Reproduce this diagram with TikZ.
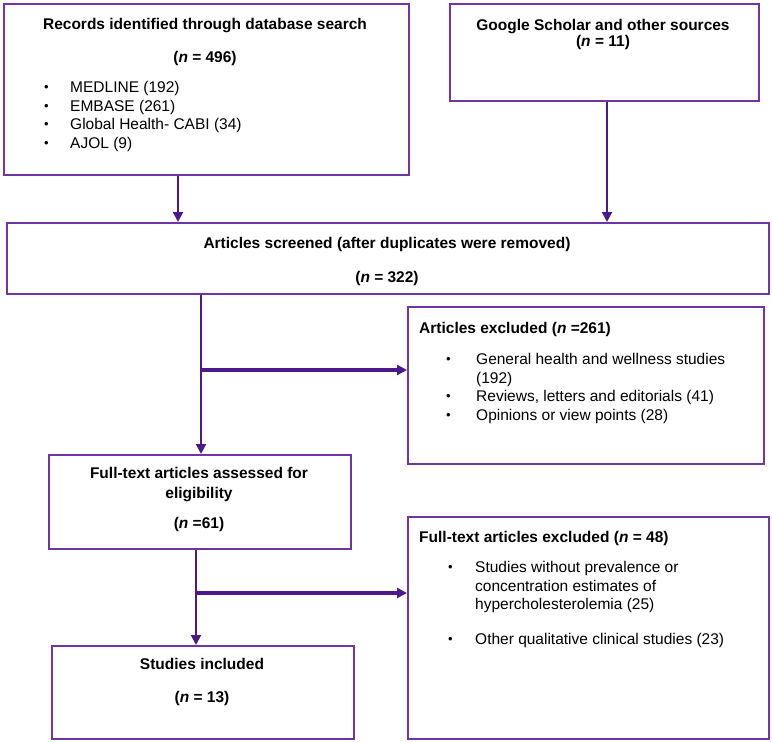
\documentclass[tikz,border=0pt]{standalone}
\usepackage{fontspec}
\setmainfont{Liberation Sans}
\usetikzlibrary{arrows.meta}
\definecolor{boxpurple}{RGB}{112,52,165}
\definecolor{arrpurple}{RGB}{75,25,140}
\newcommand{\smbul}{\raisebox{1pt}{\fontsize{13pt}{13pt}\selectfont\textbullet}}
\tikzset{
  box/.style={draw=boxpurple, line width=1.5pt, rectangle, anchor=north west, inner sep=0pt},
  txt/.style={inner sep=0pt, font=\fontsize{15.5pt}{18.5pt}\selectfont},
  btxt/.style={txt, font=\fontsize{15.5pt}{18.5pt}\selectfont\bfseries},
  conn/.style={draw=arrpurple, line width=2pt, -{Triangle[length=10pt,width=10pt]}},
  branch/.style={draw=arrpurple, line width=3.5pt, -{Triangle[length=10pt,width=10pt]}}
}
\begin{document}
\begin{tikzpicture}[x=1pt,y=-1pt]
\useasboundingbox (0,0) rectangle (772,742);
% boxes
\node[box, minimum width=405pt, minimum height=171pt] (b1) at (3,3) {};
\node[box, minimum width=309pt, minimum height=97pt] (b2) at (449,3) {};
\node[box, minimum width=762pt, minimum height=71pt] (b3) at (6,222) {};
\node[box, minimum width=356pt, minimum height=157pt] (bx1) at (407,306) {};
\node[box, minimum width=302pt, minimum height=94pt] (b4) at (48,454) {};
\node[box, minimum width=361pt, minimum height=222pt] (bx2) at (407,516) {};
\node[box, minimum width=302pt, minimum height=93pt] (b5) at (51,645) {};
% texts
\node[btxt, anchor=base] (t1a) at (205,29.5) {Records identified through database search};
\node[btxt, anchor=base] (t1b) at (205,62.5) {(\textit{n} = 496)};
\node[txt, anchor=base west] (l1) at (44,92.5) {\begin{tabular}[t]{@{}p{26pt}@{}l@{}}
\smbul & MEDLINE (192)\\
\smbul & EMBASE (261)\\
\smbul & Global Health- CABI (34)\\
\smbul & AJOL (9)
\end{tabular}};
\node[btxt, anchor=base] (t2a) at (603,30.5) {Google Scholar and other sources};
\node[btxt, anchor=base] (t2b) at (603,46) {(\textit{n} = 11)};
\node[btxt, anchor=base] (t3a) at (387,248.5) {Articles screened (after duplicates were removed)};
\node[btxt, anchor=base] (t3b) at (387,282.5) {(\textit{n} = 322)};
\node[btxt, anchor=base west] (t4) at (419,333.5) {Articles excluded (\textit{n} =261)};
\node[txt, anchor=base west] (l2) at (446,364.5) {\begin{tabular}[t]{@{}p{30pt}@{}l@{}}
\smbul & General health and wellness studies\\
 & (192)\\
\smbul & Reviews, letters and editorials (41)\\
\smbul & Opinions or view points (28)
\end{tabular}};
\node[btxt, anchor=base] (t5a) at (199,478.5) {Full-text articles assessed for};
\node[btxt, anchor=base] (t5b) at (199,498.5) {eligibility};
\node[btxt, anchor=base] (t5c) at (199,528.5) {(\textit{n} =61)};
\node[btxt, anchor=base west] (t6) at (419,542.5) {Full-text articles excluded (\textit{n} = 48)};
\node[txt, anchor=base west] (l3) at (448,572.5) {\begin{tabular}[t]{@{}p{27pt}@{}l@{}}
\smbul & Studies without prevalence or\\
 & concentration estimates of\\
 & hypercholesterolemia (25)\\[16pt]
\smbul & Other qualitative clinical studies (23)
\end{tabular}};
\node[btxt, anchor=base] (t7a) at (202,669.5) {Studies included};
\node[btxt, anchor=base] (t7b) at (202,702.5) {(\textit{n} = 13)};
% connectors
\coordinate (c178) at (178,0);
\coordinate (c607) at (607,0);
\coordinate (j1) at (201,370);
\coordinate (j2) at (196,593);
\draw[conn] (b1.south -| c178) -- (b3.north -| c178);
\draw[conn] (b2.south -| c607) -- (b3.north -| c607);
\draw[conn] (b3.south -| j1) -- (b4.north -| j1);
\draw[branch] (j1) -- (j1 -| bx1.west);
\draw[conn] (b4.south -| j2) -- (b5.north -| j2);
\draw[branch] (j2) -- (j2 -| bx2.west);
\end{tikzpicture}
\end{document}
